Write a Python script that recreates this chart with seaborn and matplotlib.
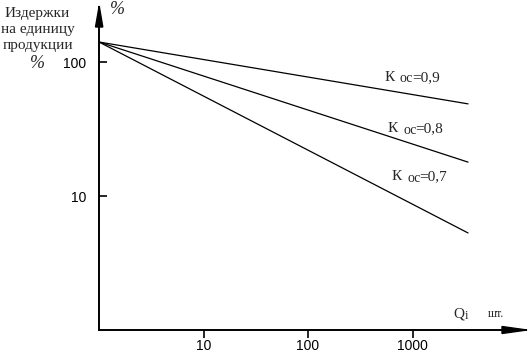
import numpy as np
import pandas as pd
import matplotlib
matplotlib.use("Agg")
import matplotlib.pyplot as plt
from matplotlib.patches import Polygon
import seaborn as sns

# ---- data ----
k_labels = ["0,9", "0,8", "0,7"]
q_points = [1, 3400]                 # output volume Q_i, шт.
cost_09 = [141, 48.7]                # cost per unit, %
cost_08 = [141, 17.9]
cost_07 = [141, 5.3]
x_ticks = [10, 100, 1000]
y_ticks = [10, 100]

df = pd.DataFrame({
    "Q": q_points * 3,
    "cost": cost_09 + cost_08 + cost_07,
    "K": [k_labels[0]] * 2 + [k_labels[1]] * 2 + [k_labels[2]] * 2,
})

sns.set_theme(style="white")
plt.rcParams["font.family"] = ["Liberation Serif", "DejaVu Serif"]

W, H = 529, 354
fig = plt.figure(figsize=(W / 100, H / 100), dpi=100)

def px(x, y):
    return (x / W, (H - y) / H)

# axes origin at pixel (99, 330), x decade 104.5 px, y decade 134 px
left, bottom = 99, 330
right, top = 526, 7
ax = fig.add_axes([left / W, (H - bottom) / H, (right - left) / W, (bottom - top) / H])
ax.set_facecolor("white")

sns.lineplot(data=df, x="Q", y="cost", hue="K", palette=["black"] * 3,
             linewidth=0.9, legend=False, ax=ax)

ax.set_xscale("log")
ax.set_yscale("log")
ax.set_xlim(1, 10 ** ((right - left) / 104.5))
ax.set_ylim(1, 10 ** ((bottom - top) / 134))

ax.set_xticks(x_ticks)
ax.set_xticklabels([str(v) for v in x_ticks])
ax.set_yticks(y_ticks)
ax.set_yticklabels([str(v) for v in y_ticks])
ax.minorticks_off()
ax.set_xlabel("")
ax.set_ylabel("")

for lab in ax.get_xticklabels() + ax.get_yticklabels():
    lab.set_fontfamily("Liberation Sans")
    lab.set_fontsize(10)
    lab.set_color("black")

ax.tick_params(axis="y", direction="in", length=6, width=1.2, color="black", pad=9, left=True)
ax.tick_params(axis="x", direction="out", length=6, width=1.2, color="black", pad=0.5, bottom=True)

for s in ["top", "right"]:
    ax.spines[s].set_visible(False)
for s in ["left", "bottom"]:
    ax.spines[s].set_color("black")
    ax.spines[s].set_linewidth(1.4)

# arrowheads
fig.patches.append(Polygon([px(95.5, 27), px(99.2, 6), px(102.8, 27)], closed=True,
                           transform=fig.transFigure, color="black"))
fig.patches.append(Polygon([px(502, 326.5), px(527, 330), px(502, 333.5)], closed=True,
                           transform=fig.transFigure, color="black"))

# line labels: К, lowered "ос", "=value"
for lab, (x, y) in zip(k_labels, [(385, 81), (388, 132), (392, 180)]):
    fig.text(*px(x, y), "К", fontsize=11, ha="left", va="baseline")
    fig.text(*px(x + 15, y + 1.5), "ос", fontsize=10, ha="left", va="baseline")
    fig.text(*px(x + 27, y), "=" + lab, fontsize=11, ha="left", va="baseline")

# axis titles
fig.text(*px(37.5, 17), "Издержки", fontsize=11, ha="center", va="baseline")
fig.text(*px(38, 33), "на единицу", fontsize=11, ha="center", va="baseline")
fig.text(*px(38, 49), "продукции", fontsize=11, ha="center", va="baseline")
fig.text(*px(37, 63), "%", fontsize=13, style="italic", ha="center", va="center")
fig.text(*px(117, 10), "%", fontsize=13, style="italic", ha="center", va="center")

fig.text(*px(453, 317), "Q", fontsize=11, ha="left", va="baseline")
fig.text(*px(465, 319), "i", fontsize=9, ha="left", va="baseline")
fig.text(*px(488, 317), "шт.", fontsize=8.5, ha="left", va="baseline")

fig.savefig("out.png", dpi=100, facecolor="white")
